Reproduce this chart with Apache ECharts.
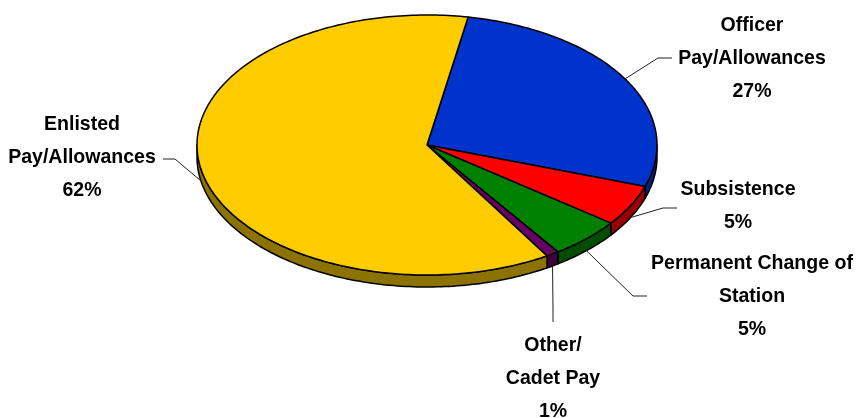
<!DOCTYPE html>
<html lang="en">
<head>
    <meta charset="UTF-8">
    <title>Pay breakdown</title>
    <style>
        html, body { margin: 0; padding: 0; background: #fff; }
        #main { width: 856px; height: 418px; }
    </style>
</head>
<body>
<div id="main"></div>
<script src="https://cdn.jsdelivr.net/npm/echarts@6/dist/echarts.min.js"></script>
<script>
    // slices, clockwise starting from the top
    var sliceNames = ['Officer\nPay/Allowances', 'Subsistence', 'Permanent Change of\nStation', 'Other/\nCadet Pay', 'Enlisted\nPay/Allowances'];
    var sliceValues = [27.3, 5.1, 5.1, 0.9, 61.6];

    var topColors = ['#0033CC', '#FF0000', '#008000', '#660066', '#FFCC00'];
    var sideColors = ['#001F80', '#990000', '#004D00', '#3D003D', '#8C7300'];

    // leader elbow / end and label centre
    var labelLayout = [
        {elbow: [658, 58], end: [672, 58], text: [752, 58]},
        {elbow: [663, 208], end: [677, 208], text: [738, 206]},
        {elbow: [633, 296], end: [647, 296], text: [752, 296]},
        {elbow: [553, 310], end: [553, 322], text: [553, 378]},
        {elbow: [175, 159], end: [163, 159], text: [82, 157]}
    ];

    var cx = 427, cy = 145, rx = 230, ry = 130, depth = 12;
    var startDeg = 10.3;
    var total = sliceValues.reduce(function (a, b) { return a + b; }, 0);

    function pt(deg, dy) {
        var r = deg * Math.PI / 180;
        return [cx + rx * Math.sin(r), cy - ry * Math.cos(r) + (dy || 0)];
    }
    function arc(a0, a1, dy) {
        var pts = [];
        var n = Math.max(2, Math.ceil(Math.abs(a1 - a0)));
        for (var k = 0; k <= n; k++) {
            pts.push(pt(a0 + (a1 - a0) * k / n, dy));
        }
        return pts;
    }

    var chart = echarts.init(document.getElementById('main'));

    function renderItem(params, api) {
        var i = params.dataIndex;
        var before = 0;
        for (var j = 0; j < i; j++) before += sliceValues[j];
        var a0 = startDeg + before / total * 360;
        var a1 = a0 + api.value(0) / total * 360;
        var children = [];

        // visible side wall (front half)
        [[90, 270], [450, 630]].forEach(function (rng) {
            var s = Math.max(a0, rng[0]), e = Math.min(a1, rng[1]);
            if (e > s) {
                var upper = arc(s, e, 0);
                var lower = arc(e, s, depth);
                children.push({
                    type: 'polygon',
                    shape: {points: upper.concat(lower)},
                    style: {fill: sideColors[i], stroke: '#000', lineWidth: 1.5, lineJoin: 'round'}
                });
            }
        });

        // top face
        children.push({
            type: 'polygon',
            shape: {points: [[cx, cy]].concat(arc(a0, a1, 0))},
            style: {fill: topColors[i], stroke: '#000', lineWidth: 1.5, lineJoin: 'round'}
        });

        // leader line
        var mid = (a0 + a1) / 2;
        var front = Math.cos(mid * Math.PI / 180) < 0;
        var anchor = pt(mid, front ? depth : 0);
        var lay = labelLayout[i];
        children.push({
            type: 'polyline',
            shape: {points: [anchor, lay.elbow, lay.end]},
            style: {stroke: '#222', lineWidth: 1, fill: null}
        });

        // label (squeezed a little to look condensed)
        children.push({
            type: 'text',
            x: lay.text[0],
            y: lay.text[1],
            scaleX: 0.93,
            style: {
                text: sliceNames[i] + '\n' + Math.round(api.value(0) / total * 100) + '%',
                x: 0,
                y: 0,
                align: 'center',
                verticalAlign: 'middle',
                fill: '#000',
                font: 'bold 21px "Liberation Sans", Arial, sans-serif',
                lineHeight: 33
            }
        });

        return {type: 'group', children: children};
    }

    var option = {
        animation: false,
        backgroundColor: '#fff',
        series: [{
            type: 'custom',
            coordinateSystem: 'none',
            silent: true,
            renderItem: renderItem,
            data: sliceValues
        }]
    };
    chart.setOption(option);
</script>
</body>
</html>
